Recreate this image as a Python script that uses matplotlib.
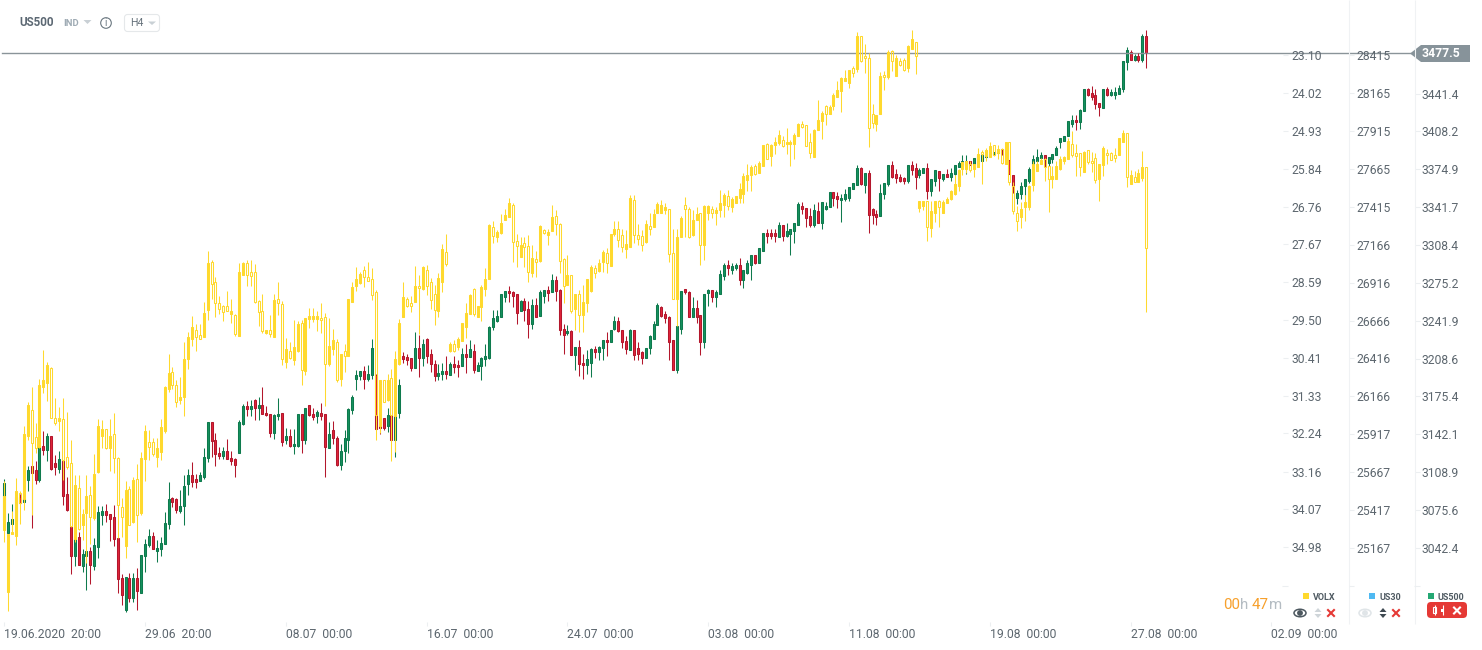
"""
US500 H4 candles with the VOLX series on an inverted scale.

Run:
    python3 plot.py
"""

import matplotlib

matplotlib.use("Agg")

import matplotlib.pyplot as plt
import numpy as np
from matplotlib.patches import Circle, Ellipse, FancyBboxPatch, Polygon


us500_open = [
    3067, 3055, 3063, 3067, 3087, 3083, 3102, 3114, 3111, 3102,
    3132, 3128, 3141, 3117, 3112, 3119, 3090, 3061, 3035, 3052,
    3026, 3035, 3040, 3026, 3043, 3071, 3075, 3072, 3069, 3051,
    3016, 2988, 3016, 2998, 3016, 3003, 3035, 3045, 3053, 3040,
    3041, 3046, 3063, 3086, 3085, 3075, 3079, 3098, 3106, 3103,
    3101, 3105, 3121, 3153, 3137, 3126, 3123, 3127, 3121, 3120,
    3126, 3151, 3167, 3164, 3172, 3165, 3168, 3161, 3160, 3143,
    3158, 3161, 3137, 3141, 3132, 3132, 3160, 3137, 3168, 3160,
    3158, 3161, 3160, 3130, 3146, 3139, 3115, 3127, 3137, 3163,
    3191, 3193, 3198, 3191, 3194, 3194, 3156, 3156, 3149, 3159,
    3137, 3161, 3211, 3210, 3209, 3200, 3218, 3209, 3226, 3213,
    3204, 3193, 3195, 3198, 3194, 3204, 3203, 3202, 3213, 3210,
    3215, 3198, 3202, 3208, 3209, 3236, 3242, 3245, 3263, 3268,
    3267, 3265, 3250, 3259, 3252, 3239, 3256, 3246, 3264, 3269,
    3267, 3278, 3269, 3235, 3231, 3233, 3212, 3219, 3205, 3203,
    3205, 3217, 3214, 3218, 3225, 3223, 3235, 3242, 3234, 3224,
    3216, 3234, 3218, 3214, 3209, 3218, 3226, 3238, 3254, 3248,
    3245, 3225, 3199, 3235, 3270, 3267, 3245, 3253, 3247, 3223,
    3266, 3269, 3263, 3265, 3281, 3291, 3286, 3288, 3291, 3278,
    3284, 3291, 3300, 3293, 3303, 3319, 3319, 3319, 3315, 3326,
    3316, 3318, 3321, 3326, 3343, 3341, 3334, 3326, 3338, 3328,
    3340, 3342, 3355, 3351, 3348, 3349, 3350, 3358, 3361, 3376,
    3361, 3372, 3340, 3336, 3334, 3353, 3362, 3379, 3371, 3368,
    3367, 3365, 3379, 3376, 3370, 3372, 3376, 3356, 3365, 3373,
    3366, 3371, 3368, 3371, 3377, 3378, 3379, 3382, 3379, 3383,
    3382, 3386, 3387, 3388, 3389, 3393, 3393, 3383, 3370, 3350,
    3353, 3360, 3365, 3379, 3382, 3385, 3387, 3380, 3384, 3387,
    3399, 3400, 3404, 3415, 3418, 3416, 3426, 3445, 3442, 3440,
    3433, 3429, 3445, 3440, 3440, 3441, 3445, 3469, 3478, 3471,
    3474, 3471, 3492,
]
us500_close = [
    3099, 3065, 3068, 3087, 3082, 3085, 3111, 3108, 3102, 3131,
    3128, 3141, 3112, 3113, 3120, 3088, 3076, 3035, 3050, 3027,
    3037, 3040, 3027, 3045, 3074, 3075, 3071, 3068, 3050, 3015,
    3001, 3017, 2998, 3016, 3004, 3036, 3046, 3053, 3041, 3042,
    3047, 3064, 3085, 3083, 3076, 3079, 3097, 3106, 3100, 3100,
    3106, 3122, 3153, 3136, 3125, 3123, 3127, 3120, 3119, 3115,
    3153, 3167, 3164, 3167, 3165, 3168, 3160, 3159, 3143, 3159,
    3160, 3135, 3141, 3132, 3134, 3160, 3137, 3165, 3159, 3157,
    3162, 3158, 3131, 3142, 3139, 3115, 3127, 3139, 3164, 3175,
    3194, 3198, 3191, 3195, 3218, 3147, 3148, 3148, 3159, 3137,
    3158, 3185, 3208, 3207, 3200, 3218, 3209, 3221, 3211, 3204,
    3193, 3196, 3198, 3195, 3204, 3201, 3201, 3213, 3210, 3217,
    3199, 3203, 3209, 3211, 3236, 3244, 3246, 3265, 3268, 3266,
    3264, 3249, 3259, 3251, 3239, 3256, 3245, 3267, 3269, 3266,
    3278, 3268, 3234, 3229, 3233, 3212, 3219, 3204, 3203, 3208,
    3217, 3214, 3219, 3225, 3223, 3234, 3242, 3233, 3223, 3217,
    3234, 3212, 3213, 3209, 3218, 3228, 3239, 3256, 3246, 3244,
    3223, 3199, 3237, 3268, 3267, 3245, 3253, 3245, 3223, 3265,
    3269, 3263, 3267, 3283, 3291, 3288, 3290, 3291, 3278, 3286,
    3293, 3300, 3293, 3306, 3319, 3316, 3316, 3316, 3326, 3316,
    3321, 3322, 3328, 3344, 3340, 3332, 3326, 3339, 3328, 3346,
    3343, 3355, 3350, 3349, 3350, 3353, 3359, 3363, 3376, 3362,
    3372, 3335, 3335, 3333, 3354, 3363, 3379, 3368, 3367, 3365,
    3365, 3379, 3374, 3368, 3374, 3376, 3356, 3366, 3374, 3367,
    3371, 3368, 3372, 3379, 3380, 3382, 3382, 3379, 3385, 3387,
    3387, 3387, 3389, 3390, 3390, 3392, 3383, 3371, 3360, 3354,
    3360, 3366, 3375, 3384, 3386, 3387, 3384, 3386, 3388, 3394,
    3402, 3404, 3417, 3418, 3416, 3427, 3445, 3440, 3438, 3432,
    3430, 3445, 3440, 3443, 3443, 3446, 3470, 3480, 3471, 3474,
    3471, 3492, 3477,
]
us500_high = [
    3103, 3073, 3081, 3090, 3090, 3086, 3114, 3114, 3119, 3131,
    3145, 3143, 3141, 3124, 3127, 3119, 3105, 3061, 3050, 3056,
    3041, 3040, 3043, 3051, 3079, 3079, 3081, 3072, 3080, 3051,
    3019, 3017, 3020, 3020, 3025, 3036, 3050, 3059, 3056, 3049,
    3052, 3074, 3100, 3087, 3086, 3093, 3106, 3112, 3118, 3107,
    3109, 3130, 3153, 3153, 3143, 3131, 3131, 3138, 3127, 3121,
    3155, 3169, 3171, 3172, 3173, 3175, 3184, 3167, 3160, 3160,
    3174, 3161, 3148, 3147, 3147, 3160, 3160, 3165, 3168, 3165,
    3163, 3170, 3160, 3153, 3154, 3141, 3134, 3146, 3165, 3177,
    3199, 3198, 3202, 3203, 3226, 3195, 3156, 3156, 3165, 3159,
    3158, 3191, 3214, 3213, 3209, 3232, 3229, 3226, 3227, 3217,
    3207, 3204, 3205, 3211, 3206, 3211, 3207, 3218, 3221, 3225,
    3221, 3206, 3210, 3221, 3237, 3251, 3251, 3265, 3268, 3272,
    3268, 3265, 3260, 3262, 3259, 3261, 3262, 3269, 3269, 3272,
    3283, 3281, 3270, 3239, 3238, 3234, 3219, 3225, 3213, 3216,
    3218, 3220, 3220, 3225, 3232, 3234, 3246, 3245, 3234, 3228,
    3235, 3234, 3223, 3215, 3218, 3229, 3242, 3257, 3255, 3250,
    3246, 3225, 3237, 3268, 3270, 3268, 3263, 3260, 3247, 3265,
    3270, 3269, 3269, 3286, 3293, 3295, 3293, 3293, 3297, 3286,
    3295, 3300, 3300, 3306, 3319, 3322, 3322, 3322, 3329, 3326,
    3328, 3322, 3328, 3346, 3346, 3341, 3341, 3344, 3346, 3346,
    3346, 3355, 3355, 3355, 3353, 3358, 3359, 3363, 3379, 3377,
    3372, 3374, 3341, 3339, 3362, 3363, 3379, 3382, 3375, 3371,
    3368, 3379, 3382, 3380, 3376, 3376, 3380, 3366, 3374, 3373,
    3371, 3375, 3376, 3379, 3382, 3387, 3387, 3382, 3385, 3387,
    3387, 3387, 3389, 3390, 3390, 3393, 3395, 3383, 3370, 3357,
    3364, 3366, 3377, 3387, 3393, 3390, 3387, 3386, 3388, 3395,
    3402, 3404, 3417, 3423, 3423, 3428, 3445, 3446, 3448, 3445,
    3433, 3445, 3447, 3445, 3447, 3449, 3470, 3482, 3480, 3476,
    3477, 3494, 3497,
]
us500_low = [
    3061, 3054, 3058, 3065, 3081, 3082, 3092, 3060, 3098, 3100,
    3124, 3119, 3111, 3106, 3108, 3080, 3075, 3019, 3026, 3027,
    3021, 3005, 3011, 3023, 3033, 3062, 3065, 3048, 3044, 3003,
    2992, 2986, 2995, 2995, 2988, 3003, 3021, 3043, 3041, 3030,
    3035, 3046, 3059, 3078, 3073, 3073, 3062, 3089, 3096, 3095,
    3101, 3103, 3118, 3122, 3114, 3120, 3120, 3120, 3115, 3105,
    3126, 3150, 3158, 3158, 3155, 3155, 3160, 3158, 3140, 3138,
    3155, 3132, 3134, 3131, 3125, 3131, 3126, 3134, 3158, 3155,
    3152, 3155, 3105, 3130, 3134, 3114, 3111, 3118, 3126, 3160,
    3181, 3190, 3182, 3189, 3191, 3147, 3142, 3146, 3144, 3137,
    3122, 3156, 3205, 3203, 3198, 3200, 3192, 3202, 3205, 3197,
    3189, 3190, 3190, 3191, 3194, 3196, 3192, 3202, 3196, 3210,
    3196, 3198, 3190, 3202, 3208, 3234, 3241, 3245, 3258, 3258,
    3254, 3239, 3250, 3242, 3227, 3235, 3245, 3246, 3257, 3259,
    3267, 3259, 3229, 3213, 3229, 3212, 3199, 3193, 3191, 3195,
    3192, 3209, 3207, 3207, 3211, 3223, 3234, 3232, 3218, 3213,
    3216, 3207, 3207, 3204, 3209, 3213, 3226, 3238, 3245, 3240,
    3207, 3199, 3196, 3230, 3265, 3245, 3245, 3240, 3212, 3218,
    3255, 3258, 3254, 3265, 3278, 3282, 3283, 3286, 3273, 3271,
    3283, 3278, 3292, 3293, 3303, 3310, 3314, 3311, 3315, 3312,
    3315, 3300, 3310, 3326, 3336, 3324, 3324, 3324, 3328, 3322,
    3339, 3342, 3343, 3341, 3329, 3347, 3347, 3358, 3361, 3361,
    3354, 3319, 3327, 3326, 3334, 3349, 3360, 3367, 3363, 3364,
    3362, 3363, 3370, 3358, 3367, 3372, 3349, 3351, 3360, 3356,
    3365, 3368, 3365, 3370, 3377, 3378, 3371, 3379, 3378, 3383,
    3382, 3385, 3387, 3387, 3388, 3387, 3382, 3371, 3354, 3344,
    3349, 3352, 3363, 3365, 3377, 3380, 3377, 3378, 3380, 3387,
    3394, 3400, 3404, 3412, 3409, 3410, 3426, 3439, 3436, 3428,
    3422, 3429, 3439, 3439, 3437, 3441, 3443, 3462, 3471, 3470,
    3469, 3469, 3464,
]

# VOLX runs on an inverted axis, so "high" is the lower end on screen
volx_open = [
    34.57, 36.06, 34.68, 34.71, 33.68, 33.82, 32.29, 31.67, 32.33, 32.56,
    31.11, 31.03, 30.66, 31.87, 31.95, 31.90, 32.81, 32.96, 34.79, 33.56,
    34.46, 34.15, 33.73, 34.29, 33.18, 32.29, 32.13, 32.60, 32.26, 32.83,
    34.02, 34.95, 33.58, 34.39, 33.34, 34.17, 32.85, 32.44, 32.45, 32.80,
    32.68, 32.19, 31.16, 30.76, 31.07, 31.43, 31.35, 30.44, 29.95, 29.74,
    29.85, 29.90, 29.25, 28.11, 28.57, 29.08, 29.17, 29.15, 29.35, 29.37,
    29.88, 28.41, 28.12, 28.35, 28.33, 29.03, 29.27, 29.82, 29.73, 29.91,
    28.98, 29.12, 30.51, 30.26, 30.47, 30.25, 29.56, 30.73, 29.48, 29.48,
    29.48, 29.45, 29.42, 30.56, 30.20, 30.04, 30.93, 30.24, 30.36, 29.06,
    28.67, 28.60, 28.28, 28.45, 28.50, 28.83, 32.05, 30.94, 31.43, 30.91,
    31.82, 30.56, 29.42, 28.98, 29.10, 29.06, 28.67, 28.76, 28.29, 28.59,
    28.88, 29.27, 28.57, 27.86, 30.24, 30.08, 30.16, 30.00, 29.68, 29.35,
    28.76, 29.42, 29.19, 28.74, 28.50, 27.26, 27.49, 27.39, 27.08, 27.00,
    26.71, 27.58, 27.97, 27.65, 27.70, 28.36, 28.03, 28.07, 27.33, 27.44,
    27.34, 26.98, 27.17, 28.02, 28.65, 28.42, 29.23, 28.86, 29.37, 29.08,
    28.79, 28.24, 28.31, 28.11, 27.89, 28.19, 27.43, 27.29, 27.45, 27.78,
    27.73, 26.59, 27.44, 27.46, 27.62, 27.24, 27.25, 26.91, 26.91, 26.84,
    26.83, 27.87, 28.98, 27.50, 26.73, 26.82, 27.45, 27.08, 26.92, 27.69,
    26.91, 26.83, 26.91, 26.84, 26.72, 26.50, 26.76, 26.67, 26.55, 26.45,
    26.12, 26.00, 25.78, 25.94, 25.77, 25.26, 25.53, 25.27, 25.23, 25.14,
    25.25, 25.25, 25.25, 25.05, 24.77, 24.80, 25.20, 25.56, 24.91, 24.69,
    24.32, 24.52, 24.33, 24.11, 23.96, 23.73, 23.77, 23.42, 23.43, 22.65,
    23.12, 23.16, 24.52, 24.76, 24.52, 23.58, 23.63, 23.01, 23.60, 23.25,
    23.21, 23.41, 22.95, 22.79, 26.79, 26.74, 26.63, 27.28, 26.91, 26.63,
    26.91, 26.67, 26.58, 26.45, 26.26, 25.85, 25.85, 25.73, 25.85, 25.80,
    25.43, 25.54, 25.56, 25.28, 25.46, 25.37, 25.72, 25.21, 26.26, 26.92,
    27.01, 26.77, 26.77, 26.24, 25.89, 25.72, 25.62, 25.78, 26.09, 26.09,
    25.85, 25.67, 25.61, 25.26, 25.47, 25.47, 25.92, 25.40, 25.65, 25.59,
    26.09, 25.75, 25.47, 25.46, 25.52, 25.51, 25.20, 24.99, 26.21, 26.05,
    26.17, 26.06, 25.80,
]
volx_close = [
    33.75, 34.67, 34.62, 33.63, 33.91, 32.25, 31.55, 32.46, 32.58, 31.07,
    30.95, 30.58, 31.86, 31.98, 31.87, 32.88, 33.04, 34.47, 33.48, 34.55,
    34.18, 33.75, 34.25, 33.22, 32.06, 32.13, 32.60, 32.30, 32.84, 33.97,
    34.26, 33.60, 34.44, 33.36, 34.21, 32.83, 32.18, 32.56, 32.73, 32.59,
    32.09, 31.12, 30.79, 31.08, 31.47, 31.36, 30.44, 29.92, 29.68, 29.92,
    29.95, 29.32, 28.13, 28.64, 29.08, 29.23, 29.30, 29.28, 29.28, 29.83,
    28.34, 28.13, 28.41, 28.43, 29.06, 29.30, 29.76, 29.74, 29.83, 29.02,
    29.08, 30.44, 30.21, 30.41, 30.16, 29.60, 30.70, 29.46, 29.41, 29.41,
    29.41, 29.50, 30.56, 30.13, 29.99, 30.94, 30.31, 30.36, 29.00, 28.71,
    28.50, 28.38, 28.46, 28.55, 28.89, 31.80, 30.95, 31.47, 30.94, 31.80,
    30.45, 29.56, 28.95, 29.15, 29.15, 28.69, 28.72, 28.23, 28.67, 29.01,
    29.25, 28.49, 27.79, 28.14, 30.08, 30.24, 29.96, 29.58, 29.34, 28.90,
    29.35, 29.17, 28.71, 28.51, 27.21, 27.48, 27.37, 27.16, 26.97, 26.68,
    27.61, 27.70, 27.69, 27.74, 28.33, 27.99, 28.11, 27.23, 27.39, 27.37,
    27.02, 27.19, 28.08, 28.67, 28.41, 29.29, 28.88, 29.39, 29.07, 28.51,
    28.23, 28.37, 28.13, 27.86, 28.13, 27.43, 27.29, 27.56, 27.73, 27.67,
    26.55, 27.45, 27.54, 27.69, 27.18, 27.29, 26.94, 26.70, 26.73, 26.77,
    27.90, 28.98, 27.50, 27.04, 26.81, 27.50, 27.08, 26.94, 27.68, 26.75,
    26.75, 26.91, 26.84, 26.68, 26.48, 26.74, 26.58, 26.51, 26.34, 26.02,
    26.00, 25.80, 25.97, 25.70, 25.28, 25.60, 25.28, 25.19, 25.04, 25.29,
    25.19, 25.19, 25.04, 24.77, 24.83, 25.29, 25.46, 24.90, 24.68, 24.51,
    24.52, 24.36, 24.07, 23.95, 23.66, 23.66, 23.45, 23.53, 22.65, 23.24,
    23.18, 24.85, 24.73, 24.55, 23.61, 23.64, 23.03, 23.24, 23.17, 23.33,
    23.45, 22.88, 22.71, 23.13, 26.63, 26.63, 27.25, 26.87, 26.63, 26.76,
    26.65, 26.58, 26.38, 26.22, 25.88, 25.68, 25.66, 25.88, 25.72, 25.48,
    25.49, 25.40, 25.30, 25.52, 25.38, 25.70, 25.21, 26.16, 26.86, 27.11,
    26.82, 26.65, 26.26, 25.72, 25.72, 25.63, 25.80, 26.09, 26.02, 25.78,
    25.61, 25.57, 25.17, 25.51, 25.53, 25.80, 25.44, 25.68, 25.70, 26.11,
    25.72, 25.35, 25.52, 25.63, 25.58, 25.10, 24.99, 26.04, 26.00, 26.16,
    25.96, 25.81, 27.76,
]
volx_low = [
    33.40, 34.67, 34.11, 33.31, 33.64, 32.06, 31.49, 31.11, 31.99, 30.92,
    30.22, 30.51, 30.64, 31.39, 31.61, 31.39, 31.71, 32.40, 33.24, 33.24,
    34.06, 33.24, 33.50, 32.74, 31.89, 31.91, 32.13, 31.90, 31.75, 32.81,
    33.80, 33.40, 33.51, 33.28, 32.97, 32.68, 32.03, 32.15, 32.35, 32.35,
    31.89, 31.09, 30.32, 30.64, 30.96, 30.87, 30.03, 29.78, 29.41, 29.60,
    29.60, 29.07, 27.84, 28.05, 28.47, 28.92, 29.14, 28.80, 28.98, 29.35,
    28.13, 28.09, 28.05, 28.05, 28.15, 29.02, 28.87, 29.73, 29.38, 28.87,
    28.59, 29.04, 29.94, 30.03, 29.50, 29.53, 29.49, 29.45, 29.22, 29.22,
    29.28, 29.10, 29.34, 29.46, 29.72, 29.96, 30.31, 30.07, 28.98, 28.58,
    28.23, 28.35, 28.20, 28.10, 28.25, 28.78, 30.94, 30.94, 30.81, 30.69,
    30.25, 29.48, 28.57, 28.94, 28.92, 28.20, 28.41, 28.20, 28.17, 28.49,
    28.65, 28.37, 27.66, 27.42, 30.02, 29.98, 29.90, 29.56, 29.10, 28.87,
    28.72, 29.17, 28.65, 28.25, 27.18, 27.10, 27.33, 26.94, 26.83, 26.55,
    26.68, 27.43, 27.49, 27.50, 27.45, 27.69, 27.83, 27.21, 27.29, 27.29,
    26.72, 26.84, 27.15, 28.01, 27.93, 28.41, 28.88, 28.78, 28.65, 28.51,
    28.17, 28.16, 28.03, 27.81, 27.77, 27.42, 27.10, 27.12, 27.31, 27.33,
    26.48, 26.48, 27.17, 27.33, 27.08, 26.91, 26.83, 26.64, 26.60, 26.68,
    26.83, 27.29, 27.29, 26.99, 26.54, 26.76, 26.84, 26.76, 26.91, 26.73,
    26.73, 26.75, 26.76, 26.35, 26.42, 26.35, 26.52, 26.51, 26.20, 25.96,
    25.73, 25.76, 25.74, 25.66, 25.27, 25.23, 25.26, 25.07, 24.91, 25.05,
    24.85, 25.15, 24.99, 24.75, 24.70, 24.80, 24.99, 24.89, 24.19, 24.44,
    24.31, 24.31, 24.01, 23.73, 23.64, 23.45, 23.45, 23.37, 22.55, 22.65,
    22.83, 23.04, 24.27, 24.55, 23.52, 23.49, 22.98, 22.98, 23.10, 23.16,
    23.16, 22.86, 22.50, 22.79, 26.63, 26.63, 26.63, 26.63, 26.63, 26.60,
    26.59, 26.52, 26.36, 26.00, 25.85, 25.68, 25.66, 25.66, 25.72, 25.35,
    25.40, 25.35, 25.21, 25.27, 25.27, 25.35, 25.21, 25.21, 26.16, 26.75,
    26.65, 26.48, 26.24, 25.67, 25.67, 25.59, 25.59, 25.78, 25.78, 25.67,
    25.54, 25.54, 25.11, 24.93, 25.25, 25.46, 25.42, 25.39, 25.44, 25.47,
    25.72, 25.30, 25.38, 25.44, 25.35, 25.10, 24.91, 24.99, 25.88, 25.90,
    25.84, 25.42, 25.80,
]
volx_high = [
    34.87, 36.54, 34.68, 34.93, 34.42, 34.09, 32.40, 34.21, 32.72, 32.60,
    31.27, 31.45, 31.87, 32.03, 32.19, 33.36, 33.10, 34.49, 34.87, 34.57,
    34.81, 35.37, 34.92, 34.33, 33.20, 32.60, 32.62, 33.14, 33.20, 34.77,
    34.75, 35.24, 34.46, 34.41, 34.87, 34.22, 33.38, 32.88, 32.78, 33.04,
    32.89, 32.22, 31.23, 31.16, 31.59, 31.53, 31.81, 30.69, 30.13, 30.24,
    29.97, 29.91, 29.50, 28.98, 29.43, 29.36, 29.52, 29.29, 29.57, 29.89,
    29.89, 28.42, 28.68, 28.68, 29.08, 29.65, 29.82, 29.84, 29.90, 29.92,
    29.38, 30.59, 30.66, 30.45, 30.59, 30.27, 31.07, 30.83, 29.70, 29.54,
    29.76, 29.82, 31.58, 30.61, 30.35, 30.99, 31.10, 30.75, 30.37, 29.06,
    28.79, 28.62, 28.70, 28.55, 29.02, 32.40, 32.24, 31.49, 31.45, 32.90,
    32.69, 30.59, 29.42, 29.18, 29.30, 29.06, 29.84, 28.78, 28.90, 29.23,
    29.62, 29.42, 28.82, 28.19, 30.28, 30.28, 30.22, 30.01, 29.94, 29.36,
    29.40, 29.42, 29.52, 28.92, 28.52, 27.65, 27.61, 27.41, 27.08, 27.02,
    28.09, 28.21, 27.97, 28.21, 28.57, 28.47, 28.45, 28.09, 27.41, 27.69,
    27.34, 27.45, 28.37, 29.10, 28.65, 29.32, 29.74, 29.78, 29.78, 29.30,
    28.82, 28.49, 28.33, 28.33, 28.37, 28.20, 27.47, 27.73, 27.85, 28.00,
    27.73, 27.65, 27.69, 27.83, 27.63, 27.45, 27.26, 26.92, 26.92, 26.94,
    28.09, 28.99, 29.64, 27.50, 27.49, 27.51, 27.46, 27.08, 28.17, 28.05,
    27.09, 27.04, 27.21, 27.00, 27.00, 26.84, 26.90, 26.68, 26.68, 26.68,
    26.38, 26.38, 25.99, 25.95, 25.78, 25.61, 25.77, 25.49, 25.27, 25.31,
    25.48, 25.77, 25.61, 25.06, 24.87, 25.30, 25.58, 25.56, 24.92, 25.12,
    24.78, 24.52, 24.43, 24.11, 24.47, 23.73, 23.89, 23.62, 23.50, 23.26,
    23.54, 25.31, 24.85, 24.94, 24.52, 23.95, 23.68, 23.48, 23.61, 23.36,
    23.48, 23.50, 22.96, 23.56, 26.88, 26.84, 27.58, 27.49, 27.13, 27.26,
    26.92, 26.68, 26.60, 26.48, 26.38, 25.99, 25.96, 25.92, 26.05, 25.81,
    26.22, 25.65, 25.57, 25.53, 25.60, 25.73, 25.74, 26.24, 26.94, 27.35,
    27.28, 27.10, 26.84, 26.38, 25.90, 25.74, 26.14, 26.88, 26.31, 26.10,
    25.88, 25.73, 25.62, 25.57, 26.02, 26.01, 25.92, 25.73, 25.93, 26.20,
    26.62, 26.02, 25.72, 25.63, 25.68, 25.52, 25.20, 26.28, 26.21, 26.17,
    26.17, 26.13, 29.31,
]

volx_ticks = [23.10, 24.02, 24.93, 25.84, 26.76, 27.67, 28.59, 29.50, 30.41, 31.33, 32.24, 33.16, 34.07, 34.98]
us30_ticks = [28415, 28165, 27915, 27665, 27415, 27166, 26916, 26666, 26416, 26166, 25917, 25667, 25417, 25167]
us500_ticks = [3441.4, 3408.2, 3374.9, 3341.7, 3308.4, 3275.2, 3241.9, 3208.6, 3175.4, 3142.1, 3108.9, 3075.6, 3042.4]
date_ticks = [0, 36, 72, 108, 144, 180, 216, 252, 288, 324]
date_labels = [
    "19.06.2020  20:00", "29.06  20:00", "08.07  00:00", "16.07  00:00", "24.07  00:00",
    "03.08  00:00", "11.08  00:00", "19.08  00:00", "27.08  00:00", "02.09  00:00",
]

GREEN = "#16915f"
GREEN_DARK = "#0e7a4d"
RED = "#e0243a"
RED_DARK = "#b3172c"
YELLOW = "#ffd92e"
TEXT = "#5c666e"
FAINT = "#eceff1"

XLIM = (-1.0995, 377.83)
# two pixels wide, so snapping keeps every body the same width
BODY_WIDTH = 2 * (XLIM[1] - XLIM[0]) / 1482


def draw_wicks(ax, x, o, h, l, c, color):
    top = np.maximum(o, c)
    bottom = np.minimum(o, c)
    ax.vlines(x, top, h, color=color, linewidth=0.75, snap=True)
    ax.vlines(x, l, bottom, color=color, linewidth=0.75, snap=True)


def draw_bodies(ax, x, o, c, face, edge):
    ax.bar(x, np.abs(c - o), bottom=np.minimum(o, c), width=BODY_WIDTH, facecolor=face, edgecolor=edge, linewidth=0.75)


def draw_us500(ax, x):
    o, h, l, c = (np.array(a, dtype=float) for a in (us500_open, us500_high, us500_low, us500_close))
    up = c >= o
    draw_wicks(ax, x[up], o[up], h[up], l[up], c[up], GREEN_DARK)
    draw_wicks(ax, x[~up], o[~up], h[~up], l[~up], c[~up], RED_DARK)
    draw_bodies(ax, x[up], o[up], c[up], GREEN, GREEN_DARK)
    draw_bodies(ax, x[~up], o[~up], c[~up], RED, RED_DARK)


def draw_volx(ax, x):
    o, h, l, c = (np.array(a, dtype=float) for a in (volx_open, volx_high, volx_low, volx_close))
    hollow = c > o
    draw_wicks(ax, x, o, h, l, c, YELLOW)
    draw_bodies(ax, x[~hollow], o[~hollow], c[~hollow], YELLOW, YELLOW)
    draw_bodies(ax, x[hollow], o[hollow], c[hollow], "none", YELLOW)


def style_value_axis(ax, side_px, ticks, fmt, pad):
    ax.spines["right"].set_position(("axes", side_px / 1482))
    for spine in ax.spines.values():
        spine.set_visible(False)
    ax.yaxis.tick_right()
    ax.set_yticks(ticks)
    ax.set_yticklabels([fmt.format(t) for t in ticks])
    ax.tick_params(axis="y", length=3.6, width=0.75, color=FAINT, pad=pad, labelsize=8.7, labelcolor=TEXT)


def draw_eye(ui, x, y, color):
    ui.add_patch(Ellipse((x, y), 12, 7.5, facecolor="none", edgecolor=color, linewidth=1.1))
    ui.add_patch(Circle((x, y), 2.2, color=color))


def draw_updown(ui, x, y, color):
    ui.add_patch(Polygon([(x - 3.5, y - 1), (x + 3.5, y - 1), (x, y - 5)], color=color, linewidth=0))
    ui.add_patch(Polygon([(x - 3.5, y + 1), (x + 3.5, y + 1), (x, y + 5)], color=color, linewidth=0))


def draw_cross(ui, x, y, color):
    ui.plot([x - 3, x + 3], [y - 3, y + 3], color=color, linewidth=1.5)
    ui.plot([x - 3, x + 3], [y + 3, y - 3], color=color, linewidth=1.5)


def draw_chrome(ui):
    # header
    ui.text(19.5, 23, "US500", fontsize=8.4, fontweight="bold", color="#5c6873", va="center")
    ui.text(63, 24, "IND", fontsize=6.8, fontweight="bold", color="#9fabb4", va="center")
    ui.add_patch(Polygon([(83.5, 20), (91.5, 20), (87.5, 24)], color="#c9d0d5", linewidth=0))
    ui.add_patch(Circle((106, 23), 5.3, facecolor="none", edgecolor="#6a7780", linewidth=0.8))
    ui.text(106, 23, "i", fontsize=7, color="#6a7780", ha="center", va="center")
    ui.add_patch(FancyBboxPatch((126, 16), 32, 14, boxstyle="round,pad=1.5,rounding_size=3",
                                facecolor="white", edgecolor="#e5e8ea", linewidth=0.8))
    ui.text(130, 23, "H4", fontsize=7.6, color="#66727b", va="center")
    ui.add_patch(Polygon([(148, 21.5), (156, 21.5), (152, 25)], color="#c9d0d5", linewidth=0))

    # separators of the value scales
    ui.vlines([1348.5, 1414.5], 0, 624, color="#f0f2f4", linewidth=0.8)
    ui.hlines(586, 1282, 1288, color=FAINT, linewidth=0.75)
    ui.hlines(586, 1349, 1354, color=FAINT, linewidth=0.75)
    ui.hlines(586, 1414, 1420, color=FAINT, linewidth=0.75)

    # last price tag
    ui.add_patch(Polygon([(1410, 53.5), (1421, 45), (1470, 45), (1470, 62), (1421, 62)], color="#87939a", linewidth=0))
    ui.text(1421.5, 53.5, f"{last_price:.1f}", fontsize=8.8, fontweight="bold", color="white", va="center")

    # countdown
    parts = [("00", "#f7a02c", 1223.5), ("h", "#b4bcc2", 1240), ("47", "#f7a02c", 1251.5), ("m", "#b4bcc2", 1268.5)]
    for label, color, x in parts:
        ui.text(x, 605, label, fontsize=10.9, color=color, va="center")

    # series legend
    for name, color, x in [("VOLX", "#ffd92e", 1303), ("US30", "#4fb9f2", 1369), ("US500", "#24a873", 1428)]:
        ui.add_patch(Polygon([(x, 593), (x + 6, 593), (x + 6, 599), (x, 599)], color=color, linewidth=0))
        ui.text(x + 10, 597, name, fontsize=6.5, fontweight="bold", color="#4f5a62", va="center")

    draw_eye(ui, 1300, 613, "#4d5860")
    draw_updown(ui, 1318, 613, "#cfd5d9")
    draw_cross(ui, 1331, 613, "#e53935")
    draw_eye(ui, 1365, 613, "#e0e5e8")
    draw_updown(ui, 1383, 613, "#3f4a52")
    draw_cross(ui, 1396, 613, "#e53935")

    ui.add_patch(FancyBboxPatch((1429, 604), 36, 12, boxstyle="round,pad=2,rounding_size=4",
                                facecolor="#e53935", edgecolor="none"))
    ui.vlines([1434.5, 1442.5], 605, 615, color="white", linewidth=0.8)
    ui.add_patch(Polygon([(1433, 607), (1436, 607), (1436, 613), (1433, 613)], facecolor="#e53935",
                         edgecolor="white", linewidth=0.8))
    ui.add_patch(Polygon([(1441, 608.5), (1444, 608.5), (1444, 611.5), (1441, 611.5)], color="white", linewidth=0))
    draw_cross(ui, 1457, 610.5, "white")


plt.rcParams["font.family"] = ["Roboto", "DejaVu Sans"]

last_price = 3477.5
candle_x = np.arange(len(us500_open), dtype=float)

fig = plt.figure(figsize=(14.82, 6.5), dpi=100, facecolor="white")

ax_us500 = fig.add_axes([0, 0, 1, 1])
ax_us30 = ax_us500.twinx()
ax_volx = ax_us500.twinx()

draw_us500(ax_us500, candle_x)
draw_volx(ax_volx, candle_x)
ax_us500.axhline(us500_close[-1], xmin=2 / 1482, xmax=1410 / 1482, color="#8a9499", linewidth=1.0, zorder=1)

ax_us500.set_xlim(*XLIM)
ax_us500.set_ylim(2952.6, 3523.6)
ax_us30.set_ylim(24492, 28781)
ax_volx.set_ylim(37.47, 21.77)

style_value_axis(ax_volx, 1283, volx_ticks, "{:.2f}", 2.3)
style_value_axis(ax_us30, 1349, us30_ticks, "{:d}", 1.8)
style_value_axis(ax_us500, 1415, us500_ticks, "{:.1f}", 1.0)

ax_us500.spines["bottom"].set_position(("axes", 28 / 650))
ax_us500.set_xticks(date_ticks)
ax_us500.set_xticklabels(date_labels, ha="left")
ax_us500.tick_params(axis="x", length=3, width=0.75, color=FAINT, pad=1.5, labelsize=8.7, labelcolor=TEXT)

ui = fig.add_axes([0, 0, 1, 1])
ui.set_xlim(0, 1482)
ui.set_ylim(650, 0)
ui.axis("off")
draw_chrome(ui)

fig.savefig("out.png", dpi=100)
plt.close(fig)
